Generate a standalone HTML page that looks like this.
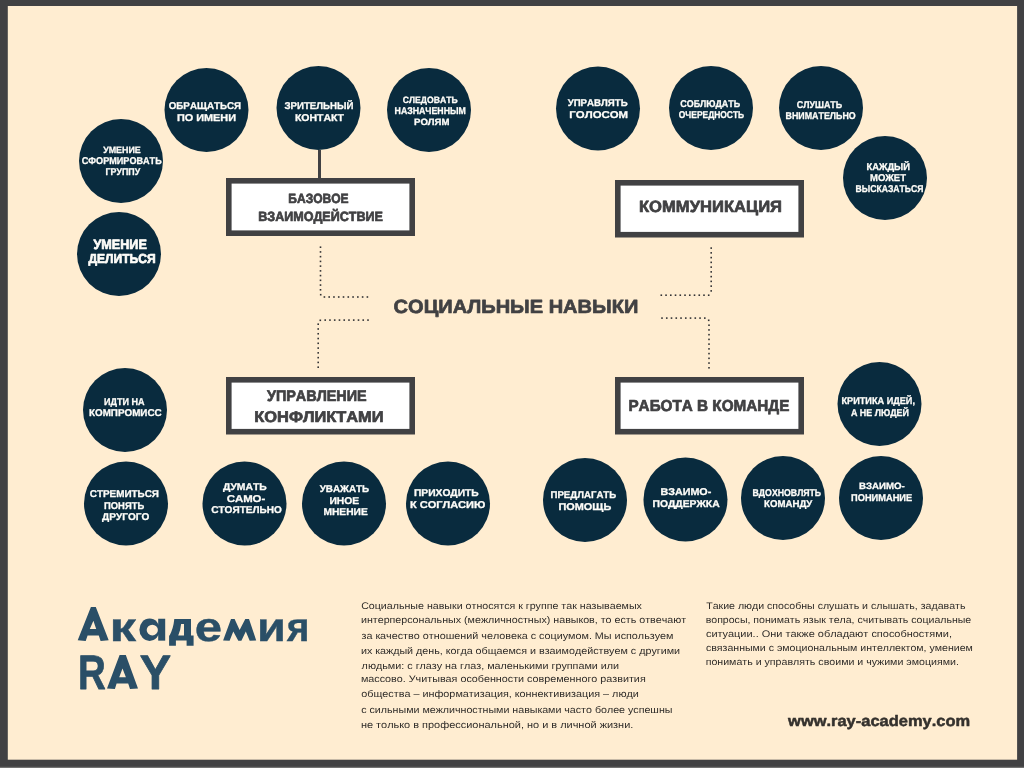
<!DOCTYPE html>
<html><head><meta charset="utf-8"><style>
html,body{margin:0;padding:0;width:1024px;height:768px;overflow:hidden;background:#414143;}
svg{display:block;font-family:"Liberation Sans",sans-serif;will-change:transform;text-rendering:geometricPrecision;font-kerning:none;}
</style></head><body>
<svg width="1024" height="768" viewBox="0 0 1024 768">
<rect x="0" y="0" width="1024" height="768" fill="#414143"/>
<rect x="7.8" y="6" width="1009.3" height="753.7" fill="#ffedd1"/>
<rect x="0" y="766.8" width="1024" height="1.2" fill="#737373"/>
<circle cx="206.5" cy="110" r="42" fill="#092b3e"/>
<circle cx="121" cy="161" r="42" fill="#092b3e"/>
<circle cx="119" cy="254" r="42" fill="#092b3e"/>
<circle cx="318.5" cy="108" r="42" fill="#092b3e"/>
<circle cx="429" cy="110" r="42" fill="#092b3e"/>
<circle cx="598" cy="108.5" r="42" fill="#092b3e"/>
<circle cx="711" cy="108" r="42" fill="#092b3e"/>
<circle cx="821" cy="108" r="42" fill="#092b3e"/>
<circle cx="885" cy="178" r="42" fill="#092b3e"/>
<circle cx="125" cy="410" r="42" fill="#092b3e"/>
<circle cx="126" cy="503.5" r="42" fill="#092b3e"/>
<circle cx="244.5" cy="503.5" r="42" fill="#092b3e"/>
<circle cx="344" cy="503.5" r="42" fill="#092b3e"/>
<circle cx="448" cy="503.5" r="42" fill="#092b3e"/>
<circle cx="585" cy="500" r="42" fill="#092b3e"/>
<circle cx="685.5" cy="499.5" r="42" fill="#092b3e"/>
<circle cx="783" cy="498" r="42" fill="#092b3e"/>
<circle cx="879.5" cy="404" r="42" fill="#092b3e"/>
<circle cx="881" cy="498" r="42" fill="#092b3e"/>
<rect x="228.8" y="180.8" width="183.4" height="52.4" fill="#fff" stroke="#414143" stroke-width="5.6"/>
<rect x="617.8" y="182.8" width="183.4" height="51.9" fill="#fff" stroke="#414143" stroke-width="5.6"/>
<rect x="228.8" y="379.8" width="183.4" height="51.9" fill="#fff" stroke="#414143" stroke-width="5.6"/>
<rect x="617.8" y="379.8" width="183.4" height="51.9" fill="#fff" stroke="#414143" stroke-width="5.6"/>
<rect x="318" y="150" width="3" height="29" fill="#414143"/>
<text x="168.75" y="109.15" font-size="9.88" font-weight="bold" fill="#fefdf9" stroke="#fefdf9" stroke-width="0.3" stroke-linejoin="round" textLength="72.25" lengthAdjust="spacingAndGlyphs">ОБРАЩАТЬСЯ</text>
<text x="176.92" y="120.65" font-size="9.88" font-weight="bold" fill="#fefdf9" stroke="#fefdf9" stroke-width="0.3" stroke-linejoin="round" textLength="59.16" lengthAdjust="spacingAndGlyphs">ПО ИМЕНИ</text>
<text x="103.15" y="152.65" font-size="9.16" font-weight="bold" fill="#fefdf9" stroke="#fefdf9" stroke-width="0.3" stroke-linejoin="round" textLength="37.55" lengthAdjust="spacingAndGlyphs">УМЕНИЕ</text>
<text x="81.78" y="164.15" font-size="9.88" font-weight="bold" fill="#fefdf9" stroke="#fefdf9" stroke-width="0.3" stroke-linejoin="round" textLength="79.90" lengthAdjust="spacingAndGlyphs">СФОРМИРОВАТЬ</text>
<text x="105.56" y="175.15" font-size="9.88" font-weight="bold" fill="#fefdf9" stroke="#fefdf9" stroke-width="0.3" stroke-linejoin="round" textLength="34.71" lengthAdjust="spacingAndGlyphs">ГРУППУ</text>
<text x="284.43" y="108.65" font-size="9.88" font-weight="bold" fill="#fefdf9" stroke="#fefdf9" stroke-width="0.3" stroke-linejoin="round" textLength="69.07" lengthAdjust="spacingAndGlyphs">ЗРИТЕЛЬНЫЙ</text>
<text x="294.95" y="120.65" font-size="9.88" font-weight="bold" fill="#fefdf9" stroke="#fefdf9" stroke-width="0.3" stroke-linejoin="round" textLength="49.02" lengthAdjust="spacingAndGlyphs">КОНТАКТ</text>
<text x="402.80" y="102.65" font-size="9.16" font-weight="bold" fill="#fefdf9" stroke="#fefdf9" stroke-width="0.3" stroke-linejoin="round" textLength="54.86" lengthAdjust="spacingAndGlyphs">СЛЕДОВАТЬ</text>
<text x="394.56" y="114.15" font-size="9.88" font-weight="bold" fill="#fefdf9" stroke="#fefdf9" stroke-width="0.3" stroke-linejoin="round" textLength="71.37" lengthAdjust="spacingAndGlyphs">НАЗНАЧЕННЫМ</text>
<text x="414.01" y="125.15" font-size="9.16" font-weight="bold" fill="#fefdf9" stroke="#fefdf9" stroke-width="0.3" stroke-linejoin="round" textLength="35.48" lengthAdjust="spacingAndGlyphs">РОЛЯМ</text>
<text x="567.65" y="106.15" font-size="9.88" font-weight="bold" fill="#fefdf9" stroke="#fefdf9" stroke-width="0.3" stroke-linejoin="round" textLength="60.05" lengthAdjust="spacingAndGlyphs">УПРАВЛЯТЬ</text>
<text x="569.39" y="118.15" font-size="9.88" font-weight="bold" fill="#fefdf9" stroke="#fefdf9" stroke-width="0.3" stroke-linejoin="round" textLength="58.72" lengthAdjust="spacingAndGlyphs">ГОЛОСОМ</text>
<text x="680.28" y="107.15" font-size="9.88" font-weight="bold" fill="#fefdf9" stroke="#fefdf9" stroke-width="0.3" stroke-linejoin="round" textLength="59.88" lengthAdjust="spacingAndGlyphs">СОБЛЮДАТЬ</text>
<text x="678.80" y="118.15" font-size="9.88" font-weight="bold" fill="#fefdf9" stroke="#fefdf9" stroke-width="0.3" stroke-linejoin="round" textLength="65.35" lengthAdjust="spacingAndGlyphs">ОЧЕРЕДНОСТЬ</text>
<text x="796.79" y="108.15" font-size="9.88" font-weight="bold" fill="#fefdf9" stroke="#fefdf9" stroke-width="0.3" stroke-linejoin="round" textLength="45.38" lengthAdjust="spacingAndGlyphs">СЛУШАТЬ</text>
<text x="785.56" y="119.15" font-size="9.88" font-weight="bold" fill="#fefdf9" stroke="#fefdf9" stroke-width="0.3" stroke-linejoin="round" textLength="70.17" lengthAdjust="spacingAndGlyphs">ВНИМАТЕЛЬНО</text>
<text x="866.52" y="170.15" font-size="9.88" font-weight="bold" fill="#fefdf9" stroke="#fefdf9" stroke-width="0.3" stroke-linejoin="round" textLength="43.45" lengthAdjust="spacingAndGlyphs">КАЖДЫЙ</text>
<text x="870.02" y="181.15" font-size="9.88" font-weight="bold" fill="#fefdf9" stroke="#fefdf9" stroke-width="0.3" stroke-linejoin="round" textLength="35.94" lengthAdjust="spacingAndGlyphs">МОЖЕТ</text>
<text x="855.57" y="192.15" font-size="9.88" font-weight="bold" fill="#fefdf9" stroke="#fefdf9" stroke-width="0.3" stroke-linejoin="round" textLength="67.85" lengthAdjust="spacingAndGlyphs">ВЫСКАЗАТЬСЯ</text>
<text x="104.05" y="405.15" font-size="9.88" font-weight="bold" fill="#fefdf9" stroke="#fefdf9" stroke-width="0.3" stroke-linejoin="round" textLength="40.54" lengthAdjust="spacingAndGlyphs">ИДТИ НА</text>
<text x="88.99" y="415.65" font-size="9.88" font-weight="bold" fill="#fefdf9" stroke="#fefdf9" stroke-width="0.3" stroke-linejoin="round" textLength="72.63" lengthAdjust="spacingAndGlyphs">КОМПРОМИСС</text>
<text x="89.74" y="496.65" font-size="9.88" font-weight="bold" fill="#fefdf9" stroke="#fefdf9" stroke-width="0.3" stroke-linejoin="round" textLength="69.27" lengthAdjust="spacingAndGlyphs">СТРЕМИТЬСЯ</text>
<text x="104.02" y="508.65" font-size="9.88" font-weight="bold" fill="#fefdf9" stroke="#fefdf9" stroke-width="0.3" stroke-linejoin="round" textLength="40.17" lengthAdjust="spacingAndGlyphs">ПОНЯТЬ</text>
<text x="102.06" y="520.15" font-size="9.88" font-weight="bold" fill="#fefdf9" stroke="#fefdf9" stroke-width="0.3" stroke-linejoin="round" textLength="47.21" lengthAdjust="spacingAndGlyphs">ДРУГОГО</text>
<text x="223.06" y="489.65" font-size="9.88" font-weight="bold" fill="#fefdf9" stroke="#fefdf9" stroke-width="0.3" stroke-linejoin="round" textLength="43.66" lengthAdjust="spacingAndGlyphs">ДУМАТЬ</text>
<text x="226.68" y="501.65" font-size="9.88" font-weight="bold" fill="#fefdf9" stroke="#fefdf9" stroke-width="0.3" stroke-linejoin="round" textLength="38.62" lengthAdjust="spacingAndGlyphs">САМО-</text>
<text x="211.24" y="513.15" font-size="9.88" font-weight="bold" fill="#fefdf9" stroke="#fefdf9" stroke-width="0.3" stroke-linejoin="round" textLength="70.53" lengthAdjust="spacingAndGlyphs">СТОЯТЕЛЬНО</text>
<text x="319.65" y="491.65" font-size="9.88" font-weight="bold" fill="#fefdf9" stroke="#fefdf9" stroke-width="0.3" stroke-linejoin="round" textLength="49.56" lengthAdjust="spacingAndGlyphs">УВАЖАТЬ</text>
<text x="329.46" y="503.65" font-size="9.88" font-weight="bold" fill="#fefdf9" stroke="#fefdf9" stroke-width="0.3" stroke-linejoin="round" textLength="29.79" lengthAdjust="spacingAndGlyphs">ИНОЕ</text>
<text x="323.47" y="515.15" font-size="9.88" font-weight="bold" fill="#fefdf9" stroke="#fefdf9" stroke-width="0.3" stroke-linejoin="round" textLength="44.28" lengthAdjust="spacingAndGlyphs">МНЕНИЕ</text>
<text x="413.96" y="496.15" font-size="9.88" font-weight="bold" fill="#fefdf9" stroke="#fefdf9" stroke-width="0.3" stroke-linejoin="round" textLength="64.75" lengthAdjust="spacingAndGlyphs">ПРИХОДИТЬ</text>
<text x="409.91" y="507.65" font-size="9.88" font-weight="bold" fill="#fefdf9" stroke="#fefdf9" stroke-width="0.3" stroke-linejoin="round" textLength="75.40" lengthAdjust="spacingAndGlyphs">К СОГЛАСИЮ</text>
<text x="550.50" y="498.15" font-size="9.88" font-weight="bold" fill="#fefdf9" stroke="#fefdf9" stroke-width="0.3" stroke-linejoin="round" textLength="65.69" lengthAdjust="spacingAndGlyphs">ПРЕДЛАГАТЬ</text>
<text x="558.42" y="509.65" font-size="9.88" font-weight="bold" fill="#fefdf9" stroke="#fefdf9" stroke-width="0.3" stroke-linejoin="round" textLength="52.82" lengthAdjust="spacingAndGlyphs">ПОМОЩЬ</text>
<text x="660.43" y="495.15" font-size="9.88" font-weight="bold" fill="#fefdf9" stroke="#fefdf9" stroke-width="0.3" stroke-linejoin="round" textLength="50.85" lengthAdjust="spacingAndGlyphs">ВЗАИМО-</text>
<text x="652.46" y="506.65" font-size="9.88" font-weight="bold" fill="#fefdf9" stroke="#fefdf9" stroke-width="0.3" stroke-linejoin="round" textLength="67.16" lengthAdjust="spacingAndGlyphs">ПОДДЕРЖКА</text>
<text x="752.57" y="495.65" font-size="9.88" font-weight="bold" fill="#fefdf9" stroke="#fefdf9" stroke-width="0.3" stroke-linejoin="round" textLength="68.60" lengthAdjust="spacingAndGlyphs">ВДОХНОВЛЯТЬ</text>
<text x="764.00" y="506.65" font-size="9.88" font-weight="bold" fill="#fefdf9" stroke="#fefdf9" stroke-width="0.3" stroke-linejoin="round" textLength="48.26" lengthAdjust="spacingAndGlyphs">КОМАНДУ</text>
<text x="841.54" y="403.65" font-size="9.88" font-weight="bold" fill="#fefdf9" stroke="#fefdf9" stroke-width="0.3" stroke-linejoin="round" textLength="73.42" lengthAdjust="spacingAndGlyphs">КРИТИКА ИДЕЙ,</text>
<text x="850.93" y="415.65" font-size="9.88" font-weight="bold" fill="#fefdf9" stroke="#fefdf9" stroke-width="0.3" stroke-linejoin="round" textLength="58.02" lengthAdjust="spacingAndGlyphs">А НЕ ЛЮДЕЙ</text>
<text x="859.00" y="488.65" font-size="9.16" font-weight="bold" fill="#fefdf9" stroke="#fefdf9" stroke-width="0.3" stroke-linejoin="round" textLength="45.73" lengthAdjust="spacingAndGlyphs">ВЗАИМО-</text>
<text x="851.03" y="500.65" font-size="9.88" font-weight="bold" fill="#fefdf9" stroke="#fefdf9" stroke-width="0.3" stroke-linejoin="round" textLength="61.18" lengthAdjust="spacingAndGlyphs">ПОНИМАНИЕ</text>
<text x="93.54" y="248.55" font-size="13.52" font-weight="bold" fill="#fefdf9" stroke="#fefdf9" stroke-width="0.7" stroke-linejoin="round" textLength="53.30" lengthAdjust="spacingAndGlyphs">УМЕНИЕ</text>
<text x="88.44" y="263.35" font-size="13.08" font-weight="bold" fill="#fefdf9" stroke="#fefdf9" stroke-width="0.7" stroke-linejoin="round" textLength="67.21" lengthAdjust="spacingAndGlyphs">ДЕЛИТЬСЯ</text>
<text x="288.35" y="202.85" font-size="13.37" font-weight="bold" fill="#414143" stroke="#414143" stroke-width="0.7" stroke-linejoin="round" textLength="60.27" lengthAdjust="spacingAndGlyphs">БАЗОВОЕ</text>
<text x="258.21" y="220.55" font-size="13.37" font-weight="bold" fill="#414143" stroke="#414143" stroke-width="0.7" stroke-linejoin="round" textLength="124.73" lengthAdjust="spacingAndGlyphs">ВЗАИМОДЕЙСТВИЕ</text>
<text x="638.94" y="211.55" font-size="16.28" font-weight="bold" fill="#414143" stroke="#414143" stroke-width="0.7" stroke-linejoin="round" textLength="143.07" lengthAdjust="spacingAndGlyphs">КОММУНИКАЦИЯ</text>
<text x="266.94" y="400.55" font-size="15.41" font-weight="bold" fill="#414143" stroke="#414143" stroke-width="0.7" stroke-linejoin="round" textLength="99.77" lengthAdjust="spacingAndGlyphs">УПРАВЛЕНИЕ</text>
<text x="254.25" y="421.95" font-size="15.55" font-weight="bold" fill="#414143" stroke="#414143" stroke-width="0.7" stroke-linejoin="round" textLength="129.30" lengthAdjust="spacingAndGlyphs">КОНФЛИКТАМИ</text>
<text x="628.43" y="411.05" font-size="15.84" font-weight="bold" fill="#414143" stroke="#414143" stroke-width="0.7" stroke-linejoin="round" textLength="160.92" lengthAdjust="spacingAndGlyphs">РАБОТА В КОМАНДЕ</text>
<text x="393.63" y="313.05" font-size="19.04" font-weight="bold" fill="#414143" stroke="#414143" stroke-width="0.7" stroke-linejoin="round" textLength="244.66" lengthAdjust="spacingAndGlyphs">СОЦИАЛЬНЫЕ НАВЫКИ</text>
<rect x="319.70" y="246.40" width="1.6" height="1.6" fill="#333335"/>
<rect x="319.70" y="251.13" width="1.6" height="1.6" fill="#333335"/>
<rect x="319.70" y="255.87" width="1.6" height="1.6" fill="#333335"/>
<rect x="319.70" y="260.60" width="1.6" height="1.6" fill="#333335"/>
<rect x="319.70" y="265.33" width="1.6" height="1.6" fill="#333335"/>
<rect x="319.70" y="270.07" width="1.6" height="1.6" fill="#333335"/>
<rect x="319.70" y="274.80" width="1.6" height="1.6" fill="#333335"/>
<rect x="319.70" y="279.53" width="1.6" height="1.6" fill="#333335"/>
<rect x="319.70" y="284.27" width="1.6" height="1.6" fill="#333335"/>
<rect x="319.70" y="289.00" width="1.6" height="1.6" fill="#333335"/>
<rect x="319.9" y="293.9" width="1.6" height="1.6" fill="#333335"/>
<rect x="323.60" y="296.20" width="1.6" height="1.6" fill="#333335"/>
<rect x="328.38" y="296.20" width="1.6" height="1.6" fill="#333335"/>
<rect x="333.16" y="296.20" width="1.6" height="1.6" fill="#333335"/>
<rect x="337.93" y="296.20" width="1.6" height="1.6" fill="#333335"/>
<rect x="342.71" y="296.20" width="1.6" height="1.6" fill="#333335"/>
<rect x="347.49" y="296.20" width="1.6" height="1.6" fill="#333335"/>
<rect x="352.27" y="296.20" width="1.6" height="1.6" fill="#333335"/>
<rect x="357.04" y="296.20" width="1.6" height="1.6" fill="#333335"/>
<rect x="361.82" y="296.20" width="1.6" height="1.6" fill="#333335"/>
<rect x="366.60" y="296.20" width="1.6" height="1.6" fill="#333335"/>
<rect x="319.5" y="319.5" width="1.6" height="1.6" fill="#333335"/>
<rect x="324.40" y="319.30" width="1.6" height="1.6" fill="#333335"/>
<rect x="329.16" y="319.30" width="1.6" height="1.6" fill="#333335"/>
<rect x="333.91" y="319.30" width="1.6" height="1.6" fill="#333335"/>
<rect x="338.67" y="319.30" width="1.6" height="1.6" fill="#333335"/>
<rect x="343.42" y="319.30" width="1.6" height="1.6" fill="#333335"/>
<rect x="348.18" y="319.30" width="1.6" height="1.6" fill="#333335"/>
<rect x="352.93" y="319.30" width="1.6" height="1.6" fill="#333335"/>
<rect x="357.69" y="319.30" width="1.6" height="1.6" fill="#333335"/>
<rect x="362.44" y="319.30" width="1.6" height="1.6" fill="#333335"/>
<rect x="367.20" y="319.30" width="1.6" height="1.6" fill="#333335"/>
<rect x="317.40" y="323.40" width="1.6" height="1.6" fill="#333335"/>
<rect x="317.40" y="328.18" width="1.6" height="1.6" fill="#333335"/>
<rect x="317.40" y="332.96" width="1.6" height="1.6" fill="#333335"/>
<rect x="317.40" y="337.73" width="1.6" height="1.6" fill="#333335"/>
<rect x="317.40" y="342.51" width="1.6" height="1.6" fill="#333335"/>
<rect x="317.40" y="347.29" width="1.6" height="1.6" fill="#333335"/>
<rect x="317.40" y="352.07" width="1.6" height="1.6" fill="#333335"/>
<rect x="317.40" y="356.84" width="1.6" height="1.6" fill="#333335"/>
<rect x="317.40" y="361.62" width="1.6" height="1.6" fill="#333335"/>
<rect x="317.40" y="366.40" width="1.6" height="1.6" fill="#333335"/>
<rect x="710.40" y="247.30" width="1.6" height="1.6" fill="#333335"/>
<rect x="710.40" y="252.06" width="1.6" height="1.6" fill="#333335"/>
<rect x="710.40" y="256.81" width="1.6" height="1.6" fill="#333335"/>
<rect x="710.40" y="261.57" width="1.6" height="1.6" fill="#333335"/>
<rect x="710.40" y="266.32" width="1.6" height="1.6" fill="#333335"/>
<rect x="710.40" y="271.08" width="1.6" height="1.6" fill="#333335"/>
<rect x="710.40" y="275.83" width="1.6" height="1.6" fill="#333335"/>
<rect x="710.40" y="280.59" width="1.6" height="1.6" fill="#333335"/>
<rect x="710.40" y="285.34" width="1.6" height="1.6" fill="#333335"/>
<rect x="710.40" y="290.10" width="1.6" height="1.6" fill="#333335"/>
<rect x="707.9" y="294.4" width="1.6" height="1.6" fill="#333335"/>
<rect x="660.50" y="294.40" width="1.6" height="1.6" fill="#333335"/>
<rect x="665.24" y="294.40" width="1.6" height="1.6" fill="#333335"/>
<rect x="669.99" y="294.40" width="1.6" height="1.6" fill="#333335"/>
<rect x="674.73" y="294.40" width="1.6" height="1.6" fill="#333335"/>
<rect x="679.48" y="294.40" width="1.6" height="1.6" fill="#333335"/>
<rect x="684.22" y="294.40" width="1.6" height="1.6" fill="#333335"/>
<rect x="688.97" y="294.40" width="1.6" height="1.6" fill="#333335"/>
<rect x="693.71" y="294.40" width="1.6" height="1.6" fill="#333335"/>
<rect x="698.46" y="294.40" width="1.6" height="1.6" fill="#333335"/>
<rect x="703.20" y="294.40" width="1.6" height="1.6" fill="#333335"/>
<rect x="661.20" y="317.30" width="1.6" height="1.6" fill="#333335"/>
<rect x="665.96" y="317.30" width="1.6" height="1.6" fill="#333335"/>
<rect x="670.71" y="317.30" width="1.6" height="1.6" fill="#333335"/>
<rect x="675.47" y="317.30" width="1.6" height="1.6" fill="#333335"/>
<rect x="680.22" y="317.30" width="1.6" height="1.6" fill="#333335"/>
<rect x="684.98" y="317.30" width="1.6" height="1.6" fill="#333335"/>
<rect x="689.73" y="317.30" width="1.6" height="1.6" fill="#333335"/>
<rect x="694.49" y="317.30" width="1.6" height="1.6" fill="#333335"/>
<rect x="699.24" y="317.30" width="1.6" height="1.6" fill="#333335"/>
<rect x="704.00" y="317.30" width="1.6" height="1.6" fill="#333335"/>
<rect x="707.9" y="319.5" width="1.6" height="1.6" fill="#333335"/>
<rect x="708.20" y="324.40" width="1.6" height="1.6" fill="#333335"/>
<rect x="708.20" y="329.13" width="1.6" height="1.6" fill="#333335"/>
<rect x="708.20" y="333.87" width="1.6" height="1.6" fill="#333335"/>
<rect x="708.20" y="338.60" width="1.6" height="1.6" fill="#333335"/>
<rect x="708.20" y="343.33" width="1.6" height="1.6" fill="#333335"/>
<rect x="708.20" y="348.07" width="1.6" height="1.6" fill="#333335"/>
<rect x="708.20" y="352.80" width="1.6" height="1.6" fill="#333335"/>
<rect x="708.20" y="357.53" width="1.6" height="1.6" fill="#333335"/>
<rect x="708.20" y="362.27" width="1.6" height="1.6" fill="#333335"/>
<rect x="708.20" y="367.00" width="1.6" height="1.6" fill="#333335"/>
<path fill="#2a4f67" fill-rule="evenodd" d="M90.9 606.9 L95.8 606.9 L108.7 640.2 L100.6 641.0 L98.8 635.6 L87.6 635.6 L85.7 641.0 L77.7 640.2 Z M93.4 620.8 L96.2 629.0 L89.8 629.0 Z"/>
<path fill="#2a4f67" fill-rule="evenodd" d="M174.3 619.1 H191.0 V635.5 H193.6 V645.8 H186.6 V640.5 H175.9 V645.8 H169.1 V635.5 H169.6 Q173.4 628.5 174.3 619.1 Z M181.1 624.1 H184.0 V635.5 H178.2 Q180.6 630.5 181.1 624.1 Z"/>
<text x="109.41" y="640.50" font-size="40.95" font-weight="bold" fill="#2a4f67" stroke="#2a4f67" stroke-width="0.4" stroke-linejoin="round" textLength="26.67" lengthAdjust="spacingAndGlyphs">к</text>
<text x="194.78" y="640.50" font-size="40.95" font-weight="bold" fill="#2a4f67" stroke="#2a4f67" stroke-width="0.4" stroke-linejoin="round" textLength="27.29" lengthAdjust="spacingAndGlyphs">е</text>
<text x="256.94" y="640.50" font-size="40.95" font-weight="bold" fill="#2a4f67" stroke="#2a4f67" stroke-width="0.4" stroke-linejoin="round" textLength="28.92" lengthAdjust="spacingAndGlyphs">и</text>
<text x="286.82" y="640.50" font-size="40.95" font-weight="bold" fill="#2a4f67" stroke="#2a4f67" stroke-width="0.4" stroke-linejoin="round" textLength="22.70" lengthAdjust="spacingAndGlyphs">я</text>
<path fill="#2a4f67" d="M223.1 640.4 L231.0 619.0 L234.6 619.0 L239.6 630.0 L245.3 619.0 L249.0 619.0 L256.2 640.4 L249.7 640.7 L245.8 631.4 L241.4 640.7 L238.3 640.7 L233.3 631.4 L229.6 640.7 Z"/>
<ellipse cx="149.6" cy="629.7" rx="10.2" ry="11.2" fill="#2a4f67"/>
<rect x="158.2" y="618.75" width="7.0" height="21.9" fill="#2a4f67"/>
<ellipse cx="152.3" cy="630.1" rx="5.6" ry="5.3" fill="#ffedd1"/>
<text x="77.88" y="688.60" font-size="48.40" font-weight="bold" fill="#2a4f67" stroke="#2a4f67" stroke-width="0.8" stroke-linejoin="round" textLength="27.76" lengthAdjust="spacingAndGlyphs">R</text>
<text x="139.80" y="688.60" font-size="48.40" font-weight="bold" fill="#2a4f67" stroke="#2a4f67" stroke-width="0.8" stroke-linejoin="round" textLength="31.26" lengthAdjust="spacingAndGlyphs">Y</text>
<path fill="#2a4f67" fill-rule="evenodd" d="M119.6 654.9 L125.8 654.9 L138.0 688.4 L130.0 689.1 L128.2 683.6 L116.6 683.6 L114.9 689.1 L107.0 688.4 Z M122.5 668.6 L125.9 677.2 L119.2 677.2 Z"/>
<text x="361.16" y="608.80" font-size="9.59" font-weight="normal" fill="#2f2c29" textLength="280.76" lengthAdjust="spacingAndGlyphs">Социальные навыки относятся к группе так называемых</text>
<text x="360.96" y="623.30" font-size="9.59" font-weight="normal" fill="#2f2c29" textLength="325.12" lengthAdjust="spacingAndGlyphs">интерперсональных (межличностных) навыков, то есть отвечают</text>
<text x="361.44" y="639.00" font-size="9.59" font-weight="normal" fill="#2f2c29" textLength="312.10" lengthAdjust="spacingAndGlyphs">за качество отношений человека с социумом. Мы используем</text>
<text x="360.96" y="654.00" font-size="9.59" font-weight="normal" fill="#2f2c29" textLength="319.09" lengthAdjust="spacingAndGlyphs">их каждый день, когда общаемся и взаимодействуем с другими</text>
<text x="361.64" y="668.90" font-size="9.59" font-weight="normal" fill="#2f2c29" textLength="257.50" lengthAdjust="spacingAndGlyphs">людьми: с глазу на глаз, маленькими группами или</text>
<text x="360.95" y="682.40" font-size="9.59" font-weight="normal" fill="#2f2c29" textLength="284.79" lengthAdjust="spacingAndGlyphs">массово. Учитывая особенности современного развития</text>
<text x="361.25" y="697.30" font-size="9.59" font-weight="normal" fill="#2f2c29" textLength="277.60" lengthAdjust="spacingAndGlyphs">общества – информатизация, коннективизация – люди</text>
<text x="361.25" y="712.70" font-size="9.59" font-weight="normal" fill="#2f2c29" textLength="311.19" lengthAdjust="spacingAndGlyphs">с сильными межличностными навыками часто более успешны</text>
<text x="360.94" y="727.60" font-size="9.59" font-weight="normal" fill="#2f2c29" textLength="272.36" lengthAdjust="spacingAndGlyphs">не только в профессиональной, но и в личной жизни.</text>
<text x="706.16" y="609.10" font-size="9.59" font-weight="normal" fill="#2f2c29" textLength="259.27" lengthAdjust="spacingAndGlyphs">Такие люди способны слушать и слышать, задавать</text>
<text x="705.67" y="622.90" font-size="9.59" font-weight="normal" fill="#2f2c29" textLength="265.60" lengthAdjust="spacingAndGlyphs">вопросы, понимать язык тела, считывать социальные</text>
<text x="705.93" y="636.80" font-size="9.59" font-weight="normal" fill="#2f2c29" textLength="246.05" lengthAdjust="spacingAndGlyphs">ситуации.. Они также обладают способностями,</text>
<text x="705.95" y="650.80" font-size="9.59" font-weight="normal" fill="#2f2c29" textLength="266.88" lengthAdjust="spacingAndGlyphs">связанными с эмоциональным интеллектом, умением</text>
<text x="705.66" y="664.75" font-size="9.59" font-weight="normal" fill="#2f2c29" textLength="253.21" lengthAdjust="spacingAndGlyphs">понимать и управлять своими и чужими эмоциями.</text>
<text x="788.1" y="725.6" font-size="15.3" font-weight="bold" fill="#34312d" stroke="#34312d" stroke-width="0.5" stroke-linejoin="round" textLength="182.0" lengthAdjust="spacingAndGlyphs">www.ray-academy.com</text>
</svg></body></html>
